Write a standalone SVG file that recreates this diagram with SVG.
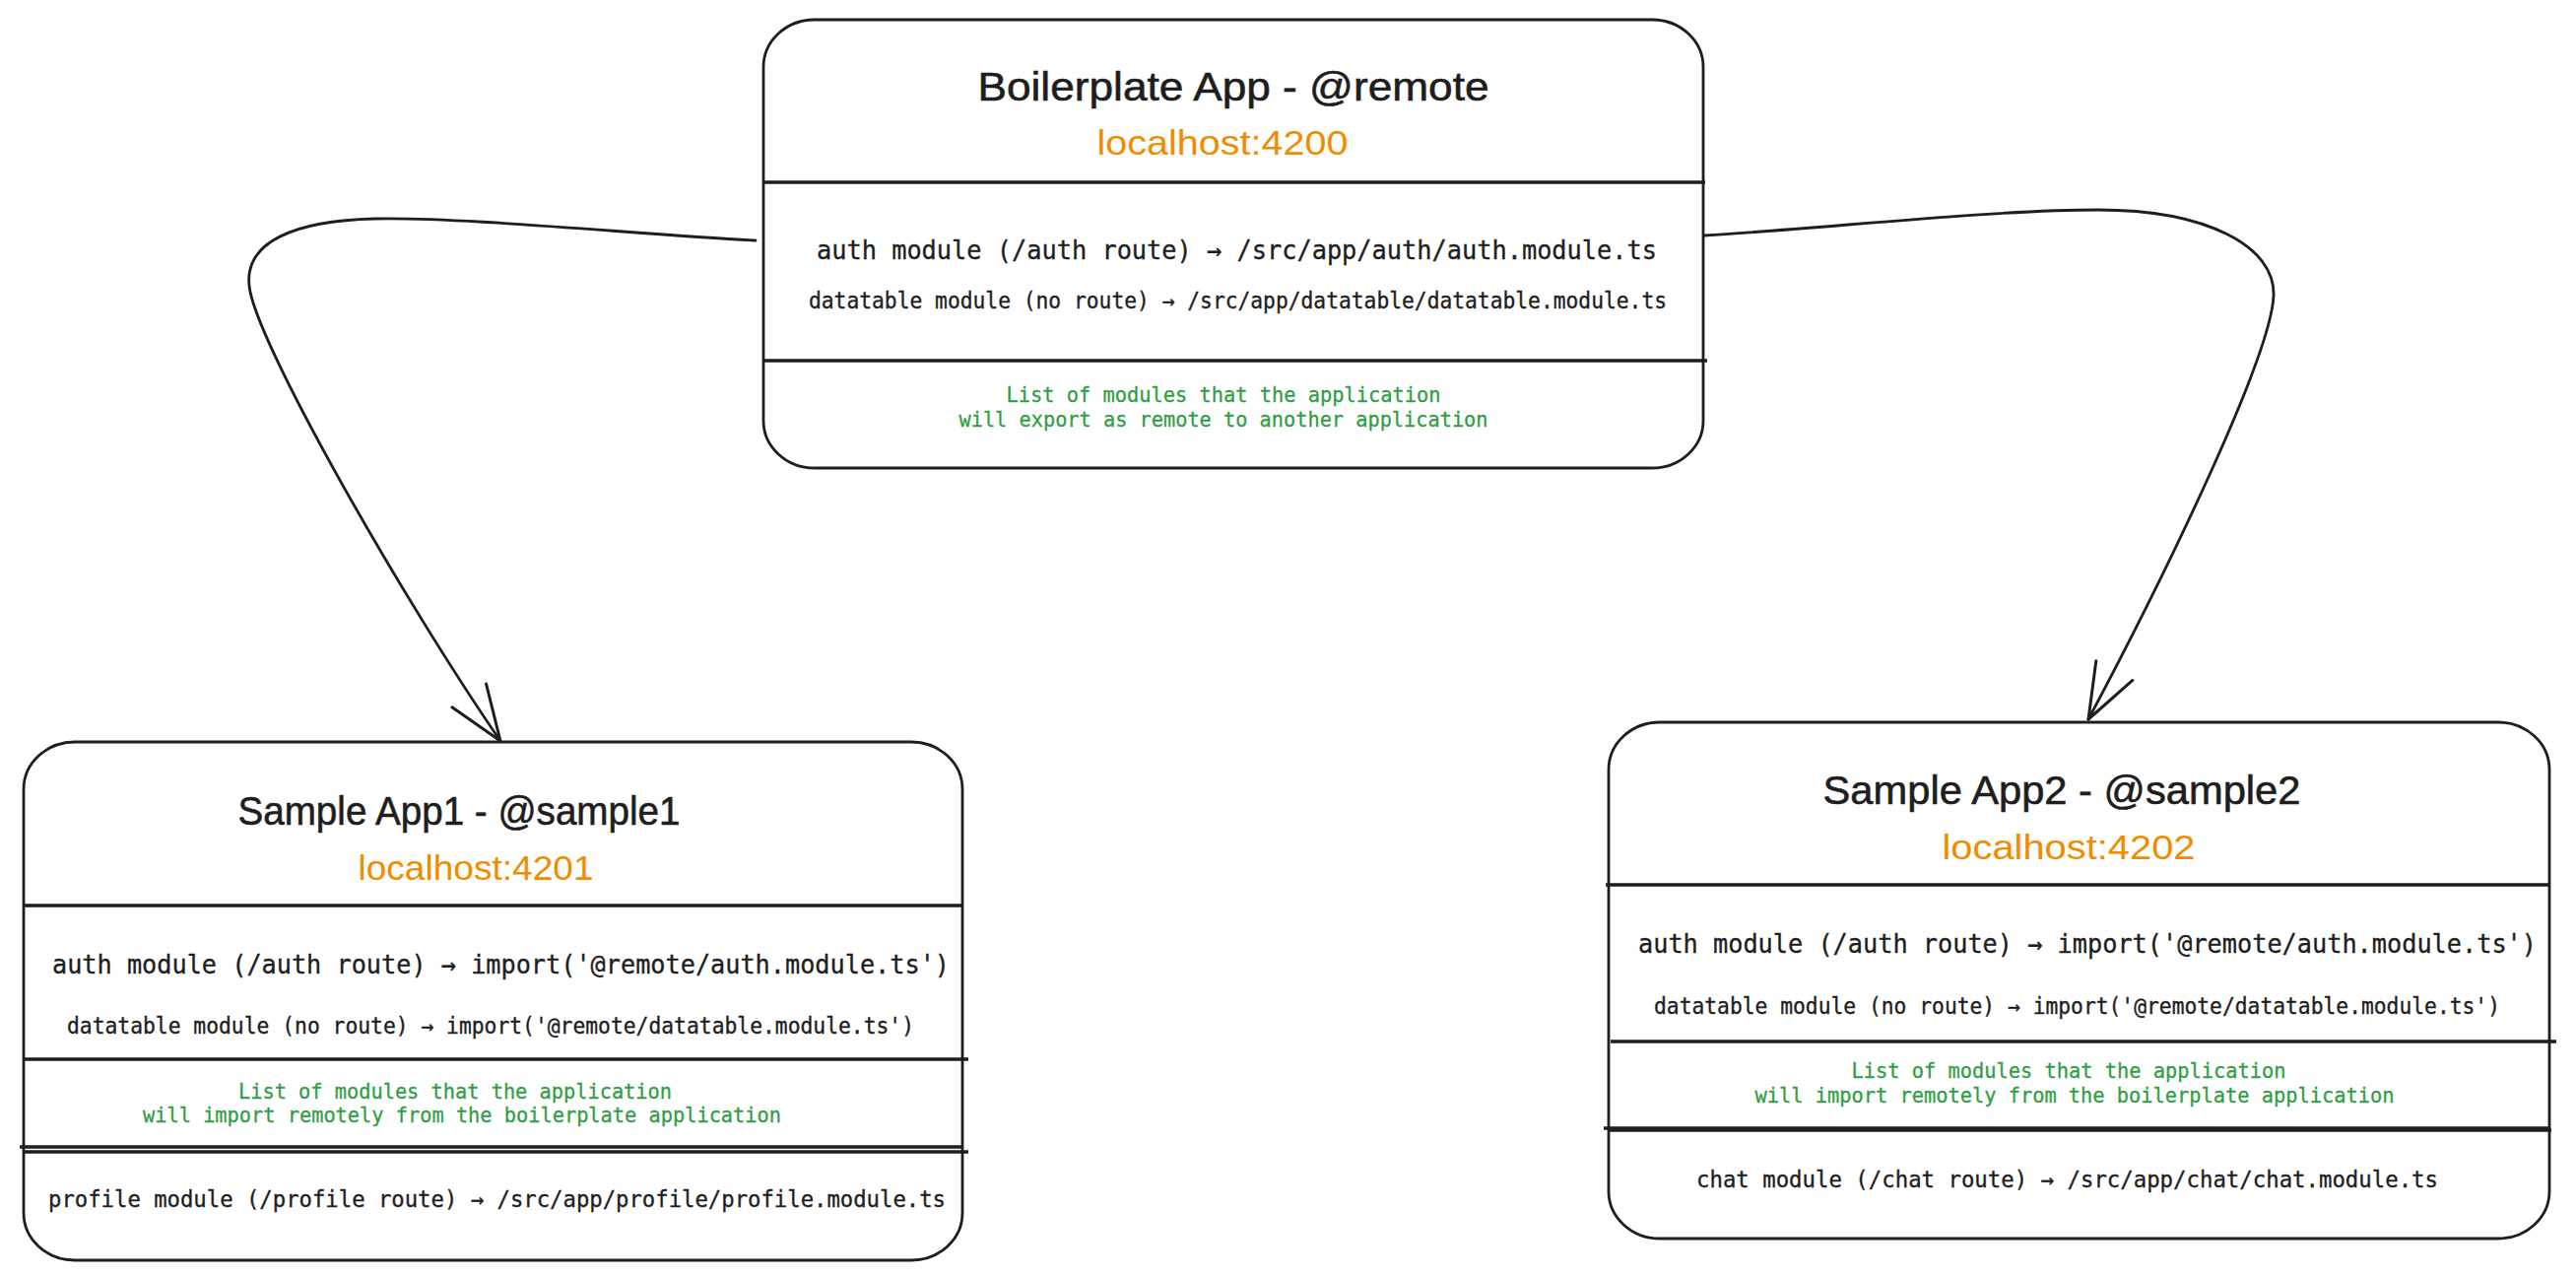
<svg xmlns="http://www.w3.org/2000/svg" width="2615" height="1295" viewBox="0 0 2615 1295">
<style>
.box{fill:#ffffff;stroke:#1e1e1e;stroke-width:2.8}
.div{stroke:#1e1e1e;stroke-width:3.6;fill:none}
.conn{fill:none;stroke:#1e1e1e;stroke-width:2.8;stroke-linecap:round}
.title{font-family:"Liberation Sans","DejaVu Sans",sans-serif;font-size:41px;fill:#1e1e1e;stroke:#1e1e1e;stroke-width:0.6;text-anchor:middle}
.host{font-family:"Liberation Sans","DejaVu Sans",sans-serif;font-size:35px;fill:#f08c00;text-anchor:middle}
.mono{font-family:"DejaVu Sans Mono","Liberation Mono",monospace;fill:#1e1e1e;stroke:#1e1e1e;stroke-width:0.35}
.big{font-size:27px}
.mid{font-size:23.5px}
.sm{font-size:22.5px}
.note{font-family:"DejaVu Sans Mono","Liberation Mono",monospace;font-size:21.5px;fill:#2f9e44;stroke:#2f9e44;stroke-width:0.3;text-anchor:middle}
</style>
<defs>
<marker id="arr" markerUnits="userSpaceOnUse" viewBox="-64 -28 70 56" refX="0" refY="0" markerWidth="70" markerHeight="56" orient="auto" overflow="visible">
<path d="M-56,-21 L0,0 L-56,21" fill="none" stroke="#1e1e1e" stroke-width="3" stroke-linecap="round" stroke-linejoin="round"/>
</marker>
</defs>
<rect width="2615" height="1295" fill="#ffffff"/>
<g id="connectors">
<path class="conn" marker-end="url(#arr)" d="M767,244 C650,238 470,220 380,222 C300,224 248,245 253,290 C258,345 410,610 508,752"/>
<path class="conn" marker-end="url(#arr)" d="M1730,239 C1850,232 2020,213 2130,213 C2240,213 2310,250 2308,300 C2306,360 2200,580 2120,730"/>
</g>
<g id="node-remote">
<rect class="box" x="775" y="20" width="954" height="455" rx="52" ry="48"/>
<line class="div" x1="774" y1="185" x2="1731" y2="185"/>
<line class="div" x1="774" y1="366" x2="1733" y2="366"/>
<text class="title" x="1252" y="102" textLength="519" lengthAdjust="spacingAndGlyphs">Boilerplate App - @remote</text>
<text class="host" x="1241" y="157" textLength="255" lengthAdjust="spacingAndGlyphs">localhost:4200</text>
<text class="mono big" x="829" y="263" textLength="853" lengthAdjust="spacingAndGlyphs">auth module (/auth route) → /src/app/auth/auth.module.ts</text>
<text class="mono sm" x="821" y="313" textLength="871" lengthAdjust="spacingAndGlyphs">datatable module (no route) → /src/app/datatable/datatable.module.ts</text>
<text class="note" x="1242" y="408" textLength="441" lengthAdjust="spacingAndGlyphs">List of modules that the application</text>
<text class="note" x="1242" y="433" textLength="537" lengthAdjust="spacingAndGlyphs">will export as remote to another application</text>
</g>
<g id="node-sample1">
<rect class="box" x="24" y="753" width="953" height="526" rx="52" ry="48"/>
<line class="div" x1="24" y1="919" x2="977" y2="919"/>
<line class="div" x1="24" y1="1075" x2="983" y2="1075"/>
<line class="div" x1="20" y1="1164" x2="977" y2="1164"/>
<line class="div" x1="24" y1="1169" x2="983" y2="1169"/>
<text class="title" x="466" y="837" textLength="449" lengthAdjust="spacingAndGlyphs">Sample App1 - @sample1</text>
<text class="host" x="483" y="893" textLength="239" lengthAdjust="spacingAndGlyphs">localhost:4201</text>
<text class="mono big" x="53" y="988" textLength="911" lengthAdjust="spacingAndGlyphs">auth module (/auth route) → import('@remote/auth.module.ts')</text>
<text class="mono sm" x="68" y="1049" textLength="860" lengthAdjust="spacingAndGlyphs">datatable module (no route) → import('@remote/datatable.module.ts')</text>
<text class="note" x="462" y="1115" textLength="440" lengthAdjust="spacingAndGlyphs">List of modules that the application</text>
<text class="note" x="469" y="1139" textLength="648" lengthAdjust="spacingAndGlyphs">will import remotely from the boilerplate application</text>
<text class="mono mid" x="49" y="1225" textLength="911" lengthAdjust="spacingAndGlyphs">profile module (/profile route) → /src/app/profile/profile.module.ts</text>
</g>
<g id="node-sample2">
<rect class="box" x="1633" y="733" width="955" height="524" rx="52" ry="48"/>
<line class="div" x1="1630" y1="898" x2="2588" y2="898"/>
<line class="div" x1="1635" y1="1057" x2="2595" y2="1057"/>
<line class="div" x1="1628" y1="1145" x2="2588" y2="1145"/>
<line class="div" x1="1634" y1="1147" x2="2590" y2="1147"/>
<text class="title" x="2093" y="816" textLength="485" lengthAdjust="spacingAndGlyphs">Sample App2 - @sample2</text>
<text class="host" x="2100" y="872" textLength="257" lengthAdjust="spacingAndGlyphs">localhost:4202</text>
<text class="mono big" x="1663" y="967" textLength="912" lengthAdjust="spacingAndGlyphs">auth module (/auth route) → import('@remote/auth.module.ts')</text>
<text class="mono sm" x="1679" y="1029" textLength="859" lengthAdjust="spacingAndGlyphs">datatable module (no route) → import('@remote/datatable.module.ts')</text>
<text class="note" x="2100" y="1094" textLength="441" lengthAdjust="spacingAndGlyphs">List of modules that the application</text>
<text class="note" x="2106" y="1119" textLength="649" lengthAdjust="spacingAndGlyphs">will import remotely from the boilerplate application</text>
<text class="mono mid" x="1722" y="1205" textLength="753" lengthAdjust="spacingAndGlyphs">chat module (/chat route) → /src/app/chat/chat.module.ts</text>
</g>
</svg>
